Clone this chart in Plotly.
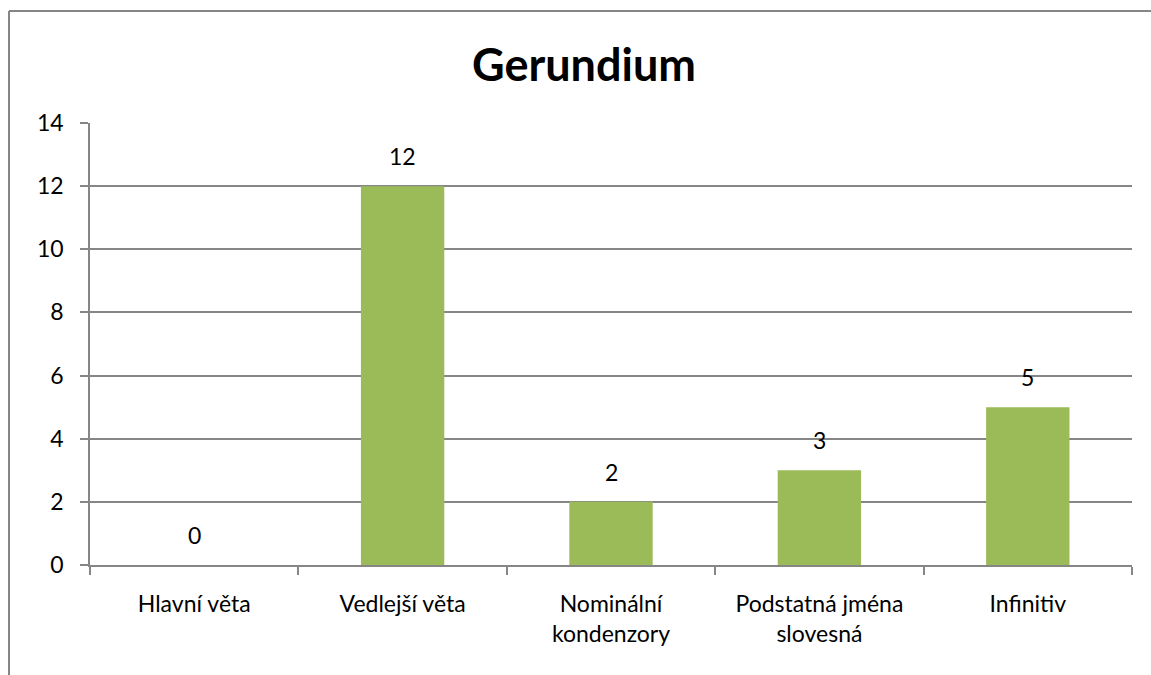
import plotly.graph_objects as go

categories = ["Hlavní věta", "Vedlejší věta", "Nominální<br>kondenzory",
              "Podstatná jména<br>slovesná", "Infinitiv"]
values = [0, 12, 2, 3, 5]
y_ticks = [0, 2, 4, 6, 8, 10, 12, 14]

FONT = "Lato, 'Open Sans', sans-serif"
GRID = "#868686"

W, H = 1151, 675
L, R, T, B = 90, 19, 123, 110
pw, ph = W - L - R, H - T - B

fig = go.Figure()
fig.add_trace(go.Bar(
    x=categories, y=values,
    marker=dict(color="#9BBB59", line_width=0),
    hoverinfo="x+y",
))

# data labels above each bar
for c, v in zip(categories, values):
    fig.add_annotation(x=c, y=v, text=str(v), showarrow=False,
                       yanchor="bottom", yshift=14,
                       font=dict(family=FONT, size=23, color="black"))

# chart border: only the left and top edges are visible in the reference
bx0 = (9 - L) / pw
by1 = (T + ph - 11) / ph
fig.add_shape(type="line", xref="paper", yref="paper",
              x0=bx0, x1=bx0, y0=-(H - T - ph) / ph, y1=by1,
              line=dict(color=GRID, width=2), layer="below")
fig.add_shape(type="line", xref="paper", yref="paper",
              x0=bx0, x1=(W - L) / pw, y0=by1, y1=by1,
              line=dict(color=GRID, width=2), layer="below")

fig.update_layout(
    width=W, height=H,
    margin=dict(l=L, r=R, t=T, b=B),
    paper_bgcolor="white", plot_bgcolor="white",
    bargap=0.6, showlegend=False,
    title=dict(text="<b>Gerundium</b>", x=584 / W, xref="container",
               xanchor="center", y=1 - 65 / H, yanchor="middle",
               font=dict(family=FONT, size=45, color="black")),
    font=dict(family=FONT, size=23, color="black"),
    xaxis=dict(showline=True, linecolor=GRID, linewidth=1.5,
               ticks="outside", tickcolor=GRID, ticklen=8, tickwidth=1.5,
               tickson="boundaries", showgrid=False,
               tickfont=dict(size=23), ticklabelstandoff=18),
    yaxis=dict(range=[0, 14], tickvals=y_ticks, showline=True, linecolor=GRID,
               linewidth=1.5, ticks="outside", tickcolor=GRID, ticklen=8,
               tickwidth=1.5, showgrid=True, gridcolor=GRID, gridwidth=1.5,
               zeroline=False, tickfont=dict(size=23), ticklabelstandoff=12),
)

# drop the default 8px page margin so the figure fills the window
fig.write_html("out.html",
               config={"displayModeBar": False},
               post_script="document.body.style.margin='0';"
                           "document.body.style.overflow='hidden';")
